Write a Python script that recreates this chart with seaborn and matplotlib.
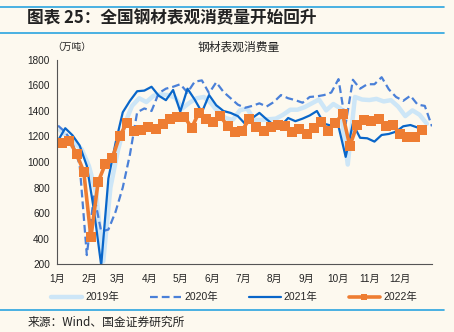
import numpy as np
import pandas as pd
import matplotlib
matplotlib.use("Agg")
import matplotlib.pyplot as plt
import seaborn as sns
from matplotlib.lines import Line2D

sns.set_theme(style="white")
plt.rcParams['font.family'] = ['Liberation Sans', 'Noto Sans CJK SC', 'DejaVu Sans']
plt.rcParams['axes.unicode_minus'] = False

# ---------------- data (weekly, 万吨) ----------------
start_2019 = "2019-01-04"
start_2020 = "2020-01-02"
start_2021 = "2021-01-09"
start_2022 = "2022-01-06"

v2019 = [1250, 1200, 1150, 1100, 970, 760, 220, 800, 1080, 1300, 1440, 1500, 1470,
         1520, 1530, 1525, 1505, 1420, 1465, 1500, 1510, 1460, 1390, 1345, 1330, 1405,
         1420, 1330, 1330, 1335, 1340, 1370, 1410, 1410, 1430, 1460, 1490, 1405, 1455,
         1420, 980, 1510, 1490, 1486, 1495, 1475, 1485, 1435, 1360, 1405, 1370, 1300]
v2020 = [1285, 1235, 1150, 980, 270, 740, 455, 470, 610, 800, 1060, 1390, 1420, 1400,
         1540, 1575, 1590, 1610, 1545, 1630, 1640, 1540, 1625, 1550, 1500, 1450, 1425,
         1440, 1460, 1435, 1470, 1525, 1500, 1485, 1465, 1510, 1515, 1525, 1545, 1650,
         1300, 1645, 1575, 1610, 1610, 1665, 1570, 1510, 1480, 1520, 1450, 1440, 1280]
v2021 = [1265, 1210, 1130, 970, 620, 190, 870, 1150, 1390, 1480, 1555, 1560, 1590,
         1520, 1485, 1565, 1395, 1575, 1490, 1390, 1525, 1445, 1400, 1385, 1360, 1300,
         1345, 1385, 1335, 1290, 1285, 1345, 1320, 1340, 1365, 1400, 1300, 1285, 1280,
         1040, 1300, 1190, 1186, 1160, 1212, 1220, 1238, 1280, 1290, 1270, 1220, 1155]
v2022 = [1150, 1165, 1063, 925, 410, 843, 984, 1035, 1204, 1306, 1240, 1250, 1275,
         1255, 1300, 1335, 1350, 1355, 1268, 1384, 1340, 1315, 1360, 1282, 1238, 1245,
         1335, 1272, 1243, 1272, 1290, 1282, 1233, 1256, 1217, 1264, 1316, 1245, 1308,
         1376, 1125, 1287, 1329, 1322, 1335, 1282, 1287, 1217, 1196, 1198, 1251]

years = ["2019年", "2020年", "2021年", "2022年"]
month_labels = ["1月", "2月", "3月", "4月", "5月", "6月", "7月", "8月", "9月", "10月", "11月", "12月"]
y_ticks = [200, 400, 600, 800, 1000, 1200, 1400, 1600, 1800]

title_text = "图表 25：全国钢材表观消费量开始回升"
chart_title = "钢材表观消费量"
unit_text = "（万吨）"
source_text = "来源：Wind、国金证券研究所"

# ---------------- build frame ----------------
frames = []
for name, start, vals in zip(years, [start_2019, start_2020, start_2021, start_2022],
                             [v2019, v2020, v2021, v2022]):
    d = pd.date_range(start, periods=len(vals), freq="7D")
    frames.append(pd.DataFrame({"day": d.dayofyear - 1, "value": vals, "year": name}))
df = pd.concat(frames, ignore_index=True)

bg = "#fdf9ef"
colors = {"2019年": "#cde6f7", "2020年": "#4a80d8", "2021年": "#0966c9", "2022年": "#ee7d32"}
styles = {
    "2019年": dict(lw=3.2, ls="-", marker=None, ms=0),
    "2020年": dict(lw=1.6, ls=(0, (3.5, 1.8)), marker=None, ms=0),
    "2021年": dict(lw=1.6, ls="-", marker=None, ms=0),
    "2022年": dict(lw=2.6, ls="-", marker="s", ms=6.8),
}

fig = plt.figure(figsize=(4.54, 3.32), dpi=100, facecolor=bg)
ax = fig.add_axes([0.1256, 0.2048, 0.8259, 0.6145])
ax.set_facecolor(bg)

for name in years:
    sub = df[df["year"] == name]
    st = styles[name]
    sns.lineplot(data=sub, x="day", y="value", ax=ax, color=colors[name],
                 linewidth=st["lw"], linestyle=st["ls"], marker=st["marker"],
                 markersize=st["ms"], markeredgewidth=0, legend=False)

month_starts = [0, 31, 59, 90, 120, 151, 181, 212, 243, 273, 304, 334, 365]
ax.set_xlim(0, 365)
ax.set_ylim(200, 1800)
ax.set_xticks(month_starts)
ax.set_xticklabels(month_labels + [""])
ax.set_yticks(y_ticks)
ax.set_yticklabels([str(v) for v in y_ticks])
ax.set_xlabel("")
ax.set_ylabel("")
for s in ["top", "right"]:
    ax.spines[s].set_visible(False)
for s in ["left", "bottom"]:
    ax.spines[s].set_color("#555555")
    ax.spines[s].set_linewidth(0.8)
ax.tick_params(axis="both", which="major", labelsize=7.2, colors="#222222",
               direction="out", length=3, width=0.7, pad=2)
ax.tick_params(axis="x", pad=4)
ax.grid(False)

# texts
fig.text(0.06, 0.945, title_text, fontsize=12, fontweight="bold", color="#222222",
         ha="left", va="center", family=['Noto Sans CJK SC', 'DejaVu Sans'])
fig.text(0.525, 0.858, chart_title, fontsize=8.5, color="#222222", ha="center", va="center",
         family=['Noto Sans CJK SC', 'DejaVu Sans'])
fig.text(0.158, 0.858, unit_text, fontsize=7, color="#222222", ha="center", va="center",
         family=['Noto Sans CJK SC', 'DejaVu Sans'])
fig.text(0.06, 0.028, source_text, fontsize=8.5, color="#222222", ha="left", va="center",
         family=['Noto Sans CJK SC', 'DejaVu Sans'])

# decorative rules
line_c = "#2aa4e0"
for yy in [0.978, 0.900, 0.066]:
    fig.add_artist(Line2D([0.0, 0.977], [yy, yy], transform=fig.transFigure,
                          color=line_c, lw=1.2))

# legend
handles = []
for name in years:
    st = styles[name]
    handles.append(Line2D([], [], color=colors[name], lw=st["lw"], ls=st["ls"],
                          marker=st["marker"], markersize=5 if st["marker"] else 0,
                          markeredgewidth=0))
fig.legend(handles, years, loc="center", bbox_to_anchor=(0.515, 0.105), ncol=4,
           frameon=False, fontsize=7.5, handlelength=3.0, columnspacing=3.0,
           handletextpad=0.3)

fig.savefig("out.png", dpi=100, facecolor=bg)
